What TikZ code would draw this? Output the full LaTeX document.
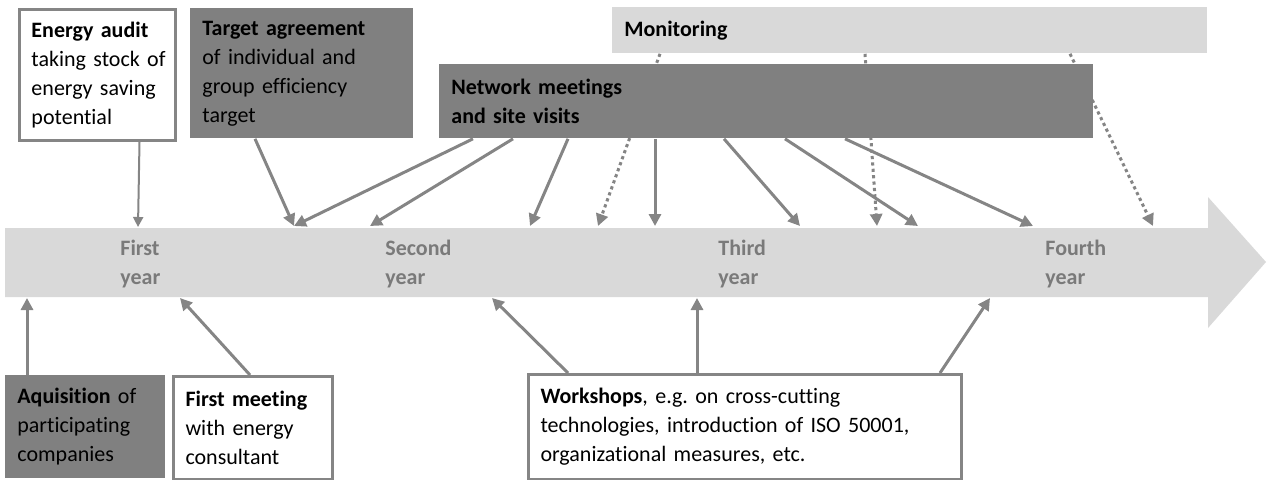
\documentclass[tikz,border=0pt]{standalone}
\usepackage{fontspec}
\setmainfont{Carlito}[Ligatures=CommonOff]
\usepackage{tikz}
\usetikzlibrary{arrows.meta}
\frenchspacing
\definecolor{boxdark}{HTML}{808080}
\definecolor{boxlight}{HTML}{D9D9D9}
\definecolor{linegray}{HTML}{858585}
\definecolor{yeargray}{HTML}{7A7A7A}
\tikzset{
    base-box/.style = {rectangle, anchor=north west, inner xsep=6pt, inner ysep=0pt, align=left, font=\fontsize{11}{14.5}\selectfont},
    white-box/.style = {base-box, draw=linegray, line width=1.5pt, fill=white},
    dark-box/.style = {base-box, fill=boxdark},
    light-box/.style = {base-box, fill=boxlight},
    year-label/.style = {anchor=west, inner sep=0pt, align=left, text=yeargray, font=\fontsize{11}{14.5}\selectfont\bfseries},
    flow-arrow/.style = {draw=linegray, line width=1.5pt, -{Triangle[length=6pt, width=6pt]}},
    dotted-arrow/.style = {flow-arrow, dash pattern=on 1.6pt off 1.6pt},
}

\begin{document}
\begin{tikzpicture}[x=0.5pt, y=-0.5pt]
\useasboundingbox (0,0) rectangle (1267,479);

% time line
\fill[boxlight] (5,228) -- (1208,228) -- (1208,197) -- (1266,262) -- (1208,328) -- (1208,297) -- (5,297) -- cycle;
\node[year-label] (first) at (120,264) {First\\year};
\node[year-label] (second) at (385,264) {Second\\year};
\node[year-label] (third) at (718,264) {Third\\year};
\node[year-label] (fourth) at (1045,264) {Fourth\\year};

% end points on the time line
\coordinate (t0) at (138,227);
\coordinate (t1) at (294,226);
\coordinate (t2) at (370,226);
\coordinate (t3) at (530,226);
\coordinate (t4) at (598,226);
\coordinate (t5) at (655,226);
\coordinate (t6) at (800,226);
\coordinate (t7) at (877,226);
\coordinate (t8) at (918,226);
\coordinate (t9) at (1033,226);
\coordinate (t10) at (1153,226);
\coordinate (b1) at (27,298);
\coordinate (b2) at (180,298);
\coordinate (b3) at (492,298);
\coordinate (b4) at (697,298);
\coordinate (b5) at (990,298);

% boxes above
\node[white-box, minimum height=65.5pt, text width=66pt] (audit) at (18,8) {\mbox{\textbf{Energy audit}}\\\mbox{taking stock of}\\\mbox{energy saving}\\potential};
\node[dark-box, minimum height=65pt, text width=99.5pt] (target) at (190,8) {\textbf{Target agreement}\\of individual and\\group efficiency\\target};
\node[light-box, minimum height=23pt, text width=285.5pt] (monitor) at (612,7) {\textbf{Monitoring}};

\draw[dotted-arrow] ([xshift=24pt]monitor.south west) -- (t4);
\draw[dotted-arrow] ([xshift=126.5pt]monitor.south west) -- (t7);
\draw[dotted-arrow] ([xshift=229pt]monitor.south west) -- (t10);

\node[dark-box, minimum height=37pt, text width=315pt] (network) at (439,64) {\textbf{Network meetings}\\\textbf{and site visits}};

\draw[flow-arrow, line width=1pt, -{Triangle[length=5pt, width=5pt]}] ([xshift=21pt]audit.south) -- (t0);
\draw[flow-arrow] ([xshift=32.5pt]target.south west) -- (t1);
\draw[flow-arrow] ([xshift=17pt]network.south west) -- (t1);
\draw[flow-arrow] ([xshift=37pt]network.south west) -- (t2);
\draw[flow-arrow] ([xshift=64.5pt]network.south west) -- (t3);
\draw[flow-arrow] ([xshift=108pt]network.south west) -- (t5);
\draw[flow-arrow] ([xshift=142.5pt]network.south west) -- (t6);
\draw[flow-arrow] ([xshift=173pt]network.south west) -- (t8);
\draw[flow-arrow] ([xshift=203pt]network.south west) -- (t9);

% boxes below
\node[dark-box, minimum height=51.5pt, text width=68pt] (aquisition) at (5,375) {\textbf{Aquisition} of\\participating\\companies};
\node[white-box, minimum height=51.5pt, text width=67.5pt] (meeting) at (172,375) {\textbf{First meeting}\\with energy\\consultant};
\node[white-box, minimum height=52.5pt, text width=204.5pt] (workshops) at (527,373) {\textbf{Workshops}, e.g. on cross-cutting\\technologies, introduction of ISO 50001,\\organizational measures, etc.};

\draw[flow-arrow] ([xshift=11pt]aquisition.north west) -- (b1);
\draw[flow-arrow] ([xshift=39pt]meeting.north west) -- (b2);
\draw[flow-arrow] ([xshift=20.5pt]workshops.north west) -- (b3);
\draw[flow-arrow] ([xshift=85pt]workshops.north west) -- (b4);
\draw[flow-arrow] ([xshift=206.5pt]workshops.north west) -- (b5);
\end{tikzpicture}
\end{document}
